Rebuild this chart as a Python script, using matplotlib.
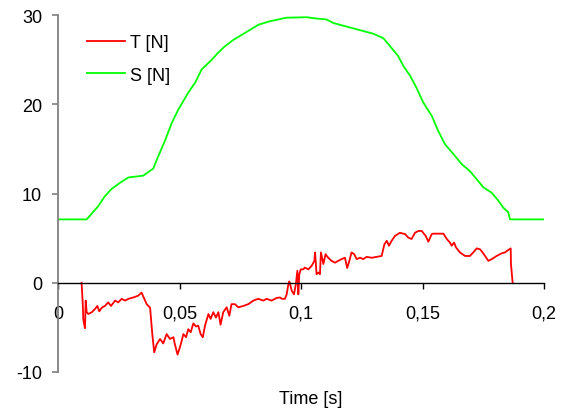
import matplotlib
matplotlib.use('Agg')
import matplotlib.pyplot as plt

plt.rcParams['font.family'] = ['Liberation Sans', 'DejaVu Sans']
plt.rcParams['axes.unicode_minus'] = False

# S [N] curve
s_time = [0.0, 0.0118, 0.0166, 0.0193, 0.022, 0.0255, 0.029, 0.0351, 0.0392,
          0.0413, 0.044, 0.0468, 0.0495, 0.0536, 0.0564, 0.0591, 0.0626, 0.066,
          0.0687, 0.0721, 0.077, 0.0824, 0.0872, 0.0941, 0.1023, 0.1064, 0.1105,
          0.1133, 0.1188, 0.1243, 0.1298, 0.1339, 0.1373, 0.14, 0.1421, 0.1449,
          0.1476, 0.1503, 0.1538, 0.1565, 0.1593, 0.1634, 0.1661, 0.1695, 0.1723,
          0.175, 0.1784, 0.1812, 0.1833, 0.1853, 0.186, 0.2]
s_force = [7.1, 7.1, 8.6, 9.7, 10.5, 11.2, 11.8, 12.0, 12.8,
           14.2, 15.9, 17.9, 19.4, 21.3, 22.4, 23.9, 24.8, 25.8,
           26.5, 27.2, 28.0, 28.9, 29.3, 29.7, 29.75, 29.6, 29.5,
           29.1, 28.7, 28.3, 27.9, 27.4, 26.3, 25.4, 24.3, 23.2,
           21.8, 20.2, 18.7, 17.0, 15.5, 14.2, 13.3, 12.5, 11.6,
           10.7, 10.1, 9.2, 8.4, 7.9, 7.1, 7.1]

# T [N] curve
t_time = [0.0097, 0.0102, 0.0104, 0.0111, 0.0114, 0.0118, 0.0125, 0.0139, 0.0152,
          0.0162, 0.017, 0.018, 0.0193, 0.0207, 0.0218, 0.0235, 0.0248, 0.0262,
          0.0276, 0.029, 0.031, 0.033, 0.0344, 0.0351, 0.0365, 0.0379, 0.0388,
          0.0396, 0.0406, 0.042, 0.0433, 0.0447, 0.0461, 0.0475, 0.0481, 0.0492,
          0.0502, 0.0509, 0.0516, 0.0527, 0.0536, 0.0546, 0.0557, 0.0568, 0.0577,
          0.0587, 0.0596, 0.0605, 0.0619, 0.0628, 0.0639, 0.065, 0.066, 0.0669,
          0.068, 0.0694, 0.0705, 0.0714, 0.0728, 0.0742, 0.0763, 0.0783, 0.0804,
          0.0824, 0.0845, 0.0859, 0.0879, 0.09, 0.0914, 0.0921, 0.0934, 0.0941,
          0.0948, 0.0952, 0.0962, 0.0971, 0.0979, 0.0985, 0.0989, 0.0993, 0.0999,
          0.1009, 0.1016, 0.103, 0.1044, 0.1055, 0.1058, 0.1064, 0.1071, 0.1078,
          0.1082, 0.1092, 0.1101, 0.1112, 0.1126, 0.114, 0.1153, 0.1167, 0.1181,
          0.119, 0.1199, 0.1208, 0.1219, 0.1229, 0.1243, 0.1256, 0.127, 0.1291,
          0.1311, 0.1332, 0.1343, 0.1353, 0.1362, 0.1373, 0.1387, 0.1407, 0.1428,
          0.1442, 0.1455, 0.1469, 0.1483, 0.1497, 0.1513, 0.1524, 0.1538, 0.1544,
          0.1586, 0.16, 0.1613, 0.162, 0.163, 0.1638, 0.1654, 0.1675, 0.1695,
          0.1709, 0.1723, 0.1737, 0.175, 0.1771, 0.1785, 0.1805, 0.1826, 0.184,
          0.1849, 0.1863, 0.1864, 0.187, 0.1871]
t_force = [0.0, -2.4, -4.1, -5.1, -2.0, -3.3, -3.5, -3.3, -2.95,
           -2.6, -3.2, -2.8, -2.6, -2.2, -2.6, -2.0, -2.2, -1.8,
           -2.0, -1.8, -1.65, -1.45, -1.1, -1.55, -2.4, -2.8, -5.75,
           -7.8, -6.9, -6.3, -6.8, -5.75, -6.3, -6.1, -6.9, -8.05,
           -7.2, -6.5, -5.75, -6.1, -5.2, -5.55, -4.55, -4.9, -4.8,
           -5.75, -6.1, -4.8, -3.5, -4.05, -3.3, -3.9, -3.3, -4.7,
           -3.3, -2.75, -3.7, -2.4, -2.4, -2.75, -2.6, -2.4, -2.0,
           -1.8, -2.0, -1.8, -2.0, -1.7, -1.65, -1.8, -1.8, -1.3,
           -0.15, 0.15, -0.9, -1.3, -0.15, 1.35, -1.3, 0.95, 1.5,
           1.5, 1.7, 1.5, 1.9, 2.45, 3.4, 0.95, 1.15, 0.95,
           3.4, 2.1, 3.2, 2.8, 2.45, 2.25, 2.45, 2.65, 2.8,
           1.65, 2.45, 3.4, 3.2, 2.65, 2.8, 2.65, 2.9, 2.8,
           2.9, 3.0, 4.3, 4.7, 4.15, 4.7, 5.25, 5.6, 5.45,
           5.05, 4.9, 5.6, 5.8, 5.8, 5.25, 4.6, 5.45, 5.5,
           5.5, 4.9, 4.5, 4.15, 4.5, 3.95, 3.4, 3.0, 3.0,
           3.4, 3.85, 3.75, 3.3, 2.45, 2.65, 3.0, 3.3, 3.4,
           3.6, 3.85, 2.1, 0.2, 0.0]

x_ticks = [0, 0.05, 0.1, 0.15, 0.2]
x_labels = ['0', '0,05', '0,1', '0,15', '0,2']
y_ticks = [-10, 0, 10, 20, 30]

fig = plt.figure(figsize=(5.66, 4.14), dpi=100)
ax = fig.add_axes([58/566, 1 - 373/414, 486/566, 357/414])

ax.plot(t_time, t_force, color='#ff0000', lw=1.3, label='T [N]')
ax.plot(s_time, s_force, color='#00ff00', lw=1.3, label='S [N]')

ax.set_xlim(0, 0.2)
ax.set_ylim(-10, 30)

ax.spines['top'].set_visible(False)
ax.spines['right'].set_visible(False)
ax.spines['bottom'].set_position(('data', 0))
ax.spines['bottom'].set_color('black')
ax.spines['bottom'].set_linewidth(1.0)
ax.spines['left'].set_color('#808080')
ax.spines['left'].set_linewidth(1.3)

ax.set_xticks(x_ticks)
ax.set_xticklabels(x_labels)
ax.set_yticks(y_ticks)
ax.tick_params(axis='x', direction='out', length=4, width=1, color='black',
               pad=12, labelsize=13)
ax.tick_params(axis='y', direction='out', length=4.5, width=1.2, color='#808080',
               pad=7, labelsize=13)

fig.text(311/566, 1 - 400/414, 'Time [s]', ha='center', va='center', fontsize=13)

ax.legend(loc='upper left', bbox_to_anchor=(78/566, 1 - 26/414),
          bbox_transform=fig.transFigure, frameon=False, fontsize=13,
          handlelength=2.1, handletextpad=0.3, labelspacing=0.86, borderpad=0)

fig.savefig('out.png', dpi=100)
